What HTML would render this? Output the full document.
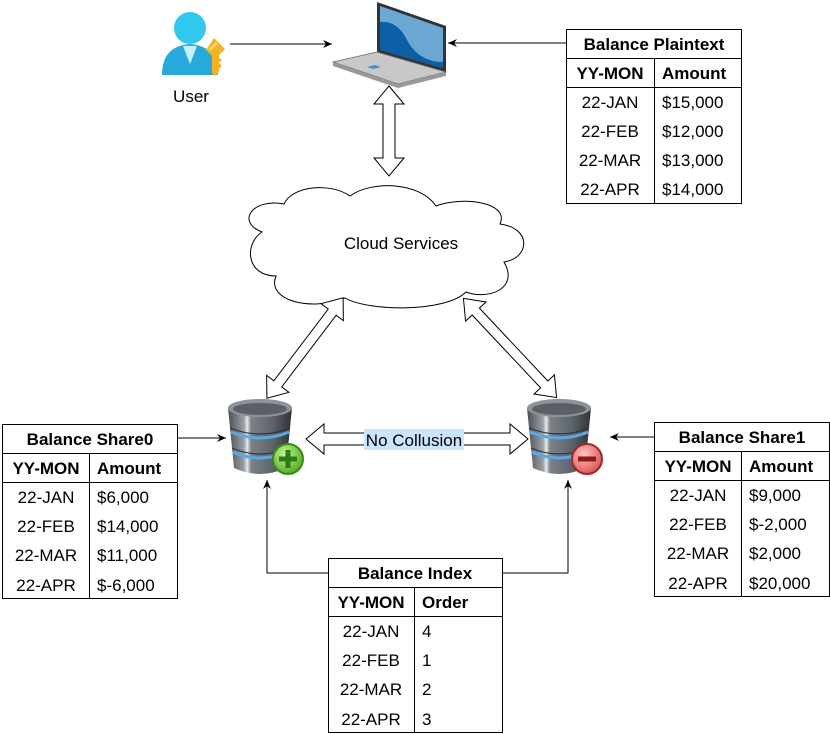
<!DOCTYPE html>
<html><head><meta charset="utf-8"><style>
html,body{margin:0;padding:0;background:#fff}
svg{display:block;font-family:"Liberation Sans",Arial,sans-serif}
.t{font-size:17px;font-weight:bold}
.n{font-size:17px}
</style></head><body>
<svg width="830" height="734" viewBox="0 0 830 734" xmlns="http://www.w3.org/2000/svg">
<defs>
<marker id="ah" markerWidth="10" markerHeight="10" refX="9" refY="5" orient="auto" markerUnits="userSpaceOnUse">
<path d="M0,1 L9,5 L0,9 L3,5 Z" fill="#000"/></marker>
<linearGradient id="dbg" x1="0" x2="1">
<stop offset="0" stop-color="#4a4f55"/><stop offset="0.25" stop-color="#9aa0a6"/><stop offset="0.3" stop-color="#e8eaec"/><stop offset="0.36" stop-color="#7c8288"/><stop offset="0.7" stop-color="#5d636a"/><stop offset="1" stop-color="#2f3338"/></linearGradient>
<radialGradient id="gp" cx="0.4" cy="0.35" r="0.7"><stop offset="0" stop-color="#c9f59a"/><stop offset="1" stop-color="#4aa71e"/></radialGradient>
<radialGradient id="rm" cx="0.4" cy="0.35" r="0.7"><stop offset="0" stop-color="#ffc4c4"/><stop offset="1" stop-color="#d9504e"/></radialGradient>
<g id="db">
<path d="M0,10 L6,70 Q32,82 58,70 L64,10 Z" fill="url(#dbg)"/>
<ellipse cx="32" cy="10" rx="32" ry="9" fill="#8d9399"/>
<ellipse cx="32" cy="11" rx="27" ry="6" fill="#5b6066"/>
<path d="M3,34 Q32,46 61,34" stroke="#5aa8e6" stroke-width="3" fill="none"/>
<path d="M5,54 Q32,66 59,54" stroke="#5aa8e6" stroke-width="3" fill="none"/>
<path d="M2,30 Q32,42 62,30" stroke="#333" stroke-width="1.2" fill="none"/>
<path d="M4,50 Q32,62 60,50" stroke="#333" stroke-width="1.2" fill="none"/>
</g>
</defs>

<!-- User icon -->
<circle cx="190" cy="28" r="16" fill="#32c7ef"/>
<path d="M162,75 Q162,46 190,44 Q218,46 218,75 Z" fill="#29a8dc"/>
<path d="M183,46 L190,64 L197,46 Z" fill="#c6f1fb"/>
<path d="M214,38 l11,11 l-6,6 v3 l3,2 l-3,3 l3,3 l-3,3 v3 l-4,4 l-3,-3 v-17 l-6,-6 z" fill="#f5b324"/>
<rect x="208" y="45" width="10" height="3" fill="#f9d36b" transform="rotate(-45 213 46)"/>
<text x="191" y="102" class="n" text-anchor="middle">User</text>

<!-- Laptop -->
<path d="M377,2 L446,26 L446,72 L377,52 Z" fill="#333"/>
<path d="M380,6 L443,28 L443,68 L380,50 Z" fill="#6aa7d3"/>
<path d="M380,22 Q398,20 408,42 Q420,62 443,62 L443,68 L380,50 Z" fill="#0b5fa5"/>
<path d="M333,62 L377,52 L446,72 L398,84 Z" fill="#c8c8c8" stroke="#666" stroke-width="0.8"/>
<path d="M333,62 L333,66 L398,88 L446,76 L446,72 L398,84 Z" fill="#999"/>
<path d="M367,67 l8,-2 l6,2 l-8,2 z" fill="#3b8fd6"/>

<line x1="230" y1="44" x2="332" y2="44" stroke="#000" marker-end="url(#ah)"/>
<line x1="566" y1="43" x2="448" y2="43" stroke="#000" marker-end="url(#ah)"/>

<!-- Cloud -->
<path d="M262,232 C236,222 252,198 284,204 C292,186 330,182 350,196 C372,180 420,182 436,206 C462,196 510,202 500,224 C532,228 530,258 504,262 C520,290 486,300 466,292 C446,312 370,312 345,298 C310,312 266,300 276,276 C246,276 244,244 262,232 Z" fill="#fff" stroke="#000"/>
<text x="401" y="249" class="n" text-anchor="middle">Cloud Services</text>

<!-- block arrows -->
<g fill="#fff" stroke="#000" stroke-width="1">
<polygon transform="translate(389,131) rotate(90)" points="-45,0 -27,-15 -27,-6 27,-6 27,-15 45,0 27,15 27,6 -27,6 -27,15"/>
<polygon transform="translate(305,348) rotate(127.2)" points="-63,0 -45,-14 -45,-5 45,-5 45,-14 63,0 45,14 45,5 -45,5 -45,14"/>
<polygon transform="translate(510,348) rotate(46.8)" points="-68,0 -50,-14 -50,-5 50,-5 50,-14 68,0 50,14 50,5 -50,5 -50,14"/>
<polygon transform="translate(417,439)" points="-111,0 -93,-15 -93,-6 93,-6 93,-15 111,0 93,15 93,6 -93,6 -93,15"/>
</g>
<rect x="364" y="429" width="100" height="21" fill="#cce5ff"/>
<text x="414" y="446" class="n" text-anchor="middle">No Collusion</text>

<!-- DBs -->
<use href="#db" x="228" y="398"/>
<circle cx="288" cy="459" r="15" fill="url(#gp)" stroke="#3a8a18" stroke-width="2"/>
<rect x="279" y="456.5" width="18" height="5" fill="#2b7d12"/><rect x="285.5" y="450" width="5" height="18" fill="#2b7d12"/>
<use href="#db" x="527" y="398"/>
<circle cx="587" cy="459" r="15" fill="url(#rm)" stroke="#9b2a28" stroke-width="2"/>
<rect x="578" y="456.5" width="18" height="5" fill="#8a1d1b"/>

<!-- connectors -->
<line x1="177" y1="438" x2="226" y2="438" stroke="#000" marker-end="url(#ah)"/>
<line x1="654" y1="437" x2="610" y2="437" stroke="#000" marker-end="url(#ah)"/>
<polyline points="328,573 267,573 267,480" fill="none" stroke="#000" marker-end="url(#ah)"/>
<polyline points="502,573 568,573 568,480" fill="none" stroke="#000" marker-end="url(#ah)"/>

<!-- Tables -->
<g stroke="#000" fill="none">
<rect x="566.5" y="29.5" width="175" height="174"/><line x1="566" y1="58.5" x2="741" y2="58.5"/><line x1="566" y1="87.5" x2="741" y2="87.5"/><line x1="654.5" y1="58" x2="654.5" y2="203"/>
<rect x="2.5" y="424.5" width="175" height="174"/><line x1="2" y1="453.5" x2="177" y2="453.5"/><line x1="2" y1="482.5" x2="177" y2="482.5"/><line x1="89.5" y1="453" x2="89.5" y2="598"/>
<rect x="654.5" y="422.5" width="175" height="174"/><line x1="654" y1="451.5" x2="829" y2="451.5"/><line x1="654" y1="480.5" x2="829" y2="480.5"/><line x1="741.5" y1="451" x2="741.5" y2="596"/>
<rect x="328.5" y="558.5" width="174" height="174"/><line x1="328" y1="587.5" x2="502" y2="587.5"/><line x1="328" y1="616.5" x2="502" y2="616.5"/><line x1="414.5" y1="587" x2="414.5" y2="732"/>
</g>

<g class="n">
<text x="654" y="50" class="t" text-anchor="middle">Balance Plaintext</text>
<text x="610" y="79" class="t" text-anchor="middle">YY-MON</text><text x="662" y="79" class="t">Amount</text>
<text x="610" y="108" text-anchor="middle">22-JAN</text><text x="662" y="108">$15,000</text>
<text x="610" y="137" text-anchor="middle">22-FEB</text><text x="662" y="137">$12,000</text>
<text x="610" y="166" text-anchor="middle">22-MAR</text><text x="662" y="166">$13,000</text>
<text x="610" y="195" text-anchor="middle">22-APR</text><text x="662" y="195">$14,000</text>

<text x="90" y="445" class="t" text-anchor="middle">Balance Share0</text>
<text x="46" y="474" class="t" text-anchor="middle">YY-MON</text><text x="97" y="474" class="t">Amount</text>
<text x="46" y="503" text-anchor="middle">22-JAN</text><text x="97" y="503">$6,000</text>
<text x="46" y="532" text-anchor="middle">22-FEB</text><text x="97" y="532">$14,000</text>
<text x="46" y="561" text-anchor="middle">22-MAR</text><text x="97" y="561">$11,000</text>
<text x="46" y="591" text-anchor="middle">22-APR</text><text x="97" y="591">$-6,000</text>

<text x="742" y="443" class="t" text-anchor="middle">Balance Share1</text>
<text x="698" y="472" class="t" text-anchor="middle">YY-MON</text><text x="749" y="472" class="t">Amount</text>
<text x="698" y="501" text-anchor="middle">22-JAN</text><text x="749" y="501">$9,000</text>
<text x="698" y="530" text-anchor="middle">22-FEB</text><text x="749" y="530">$-2,000</text>
<text x="698" y="559" text-anchor="middle">22-MAR</text><text x="749" y="559">$2,000</text>
<text x="698" y="589" text-anchor="middle">22-APR</text><text x="749" y="589">$20,000</text>

<text x="415" y="579" class="t" text-anchor="middle">Balance Index</text>
<text x="371" y="608" class="t" text-anchor="middle">YY-MON</text><text x="422" y="608" class="t">Order</text>
<text x="371" y="637" text-anchor="middle">22-JAN</text><text x="422" y="637">4</text>
<text x="371" y="666" text-anchor="middle">22-FEB</text><text x="422" y="666">1</text>
<text x="371" y="695" text-anchor="middle">22-MAR</text><text x="422" y="695">2</text>
<text x="371" y="725" text-anchor="middle">22-APR</text><text x="422" y="725">3</text>
</g>
</svg>
</body></html>
